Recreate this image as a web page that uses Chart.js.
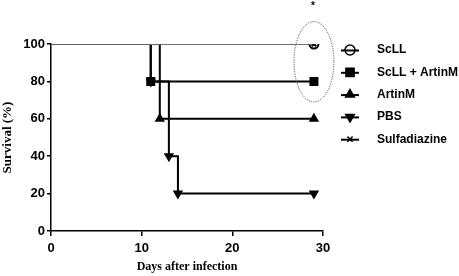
<!DOCTYPE html>
<html>
<head>
<meta charset="utf-8">
<script src="https://cdn.jsdelivr.net/npm/chart.js@4/dist/chart.umd.min.js"></script>
<style>
  html, body { margin: 0; padding: 0; background: #fff; }
  #wrap { width: 459px; height: 276px; position: relative; }
</style>
</head>
<body>
<div id="wrap"><canvas id="surv"></canvas></div>
<script>
// Data (days, % survival)
const groups = ["ScLL", "ScLL + ArtinM", "ArtinM", "PBS", "Sulfadiazine"];
const scllDays = [0, 29];
const scllSurv = [100, 100];
const scllArtDays = [0, 11, 29];
const scllArtSurv = [100, 80, 80];
const artinDays = [0, 12, 29];
const artinSurv = [100, 60, 60];
const pbsDays = [0, 11, 13, 14, 29];
const pbsSurv = [100, 80, 40, 20, 20];
const sulfaDays = [0, 29];
const sulfaSurv = [100, 100];
const xTicks = [0, 10, 20, 30];
const yTicks = [0, 20, 40, 60, 80, 100];

function pts(xs, ys) { return xs.map((x, i) => ({ x: x, y: ys[i] })); }
// hide the marker at day 0 (start of curve)
function radii(xs, r) { return xs.map(x => x === 0 ? 0 : r); }

const styles = [
  { style: "circle", r: 4.5, fill: "#fff", color: "#6a6a6a", w: 1.5, rot: 0, bw: 2 },
  { style: "rect", r: 5.3, fill: "#000", color: "#000", w: 2, rot: 0, bw: 1.5 },
  { style: "triangle", r: 4.5, fill: "#000", color: "#000", w: 2, rot: 0, bw: 1.5 },
  { style: "triangle", r: 4.5, fill: "#000", color: "#000", w: 2, rot: 180, bw: 1.5 },
  { style: "crossRot", r: 3.2, fill: "#000", color: "#6a6a6a", w: 1.5, rot: 0, bw: 2 }
];
const series = [
  [scllDays, scllSurv], [scllArtDays, scllArtSurv], [artinDays, artinSurv],
  [pbsDays, pbsSurv], [sulfaDays, sulfaSurv]
];

const datasets = series.map((s, i) => {
  const st = styles[i];
  return {
    label: groups[i],
    data: pts(s[0], s[1]),
    stepped: "before",
    borderColor: st.color,
    borderWidth: st.w,
    pointStyle: st.style,
    pointRadius: radii(s[0], st.r),
    pointRotation: st.rot,
    pointBackgroundColor: st.fill,
    pointBorderColor: "#000",
    pointBorderWidth: st.bw,
    fill: false
  };
});
// grey 100% lines on top of the black ones, the x inside the open circle
datasets[0].order = -1;
datasets[4].order = -2;

// dotted ellipse + asterisk, and the side legend
const extras = {
  id: "extras",
  afterDatasetsDraw(chart) {
    const { ctx, scales: { x, y } } = chart;
    ctx.save();
    const cx = x.getPixelForValue(29.0);
    const cy = y.getPixelForValue(90.5);
    const rx = x.getPixelForValue(31.2) - cx;
    const ry = cy - y.getPixelForValue(112);
    ctx.setLineDash([1.2, 1.2]);
    ctx.strokeStyle = "#555";
    ctx.lineWidth = 1;
    ctx.beginPath();
    ctx.ellipse(cx, cy, rx, ry, 0, 0, Math.PI * 2);
    ctx.stroke();
    ctx.setLineDash([]);
    ctx.fillStyle = "#000";
    ctx.font = "bold 10px 'Liberation Sans', Arial, sans-serif";
    ctx.textAlign = "center";
    ctx.textBaseline = "middle";
    ctx.fillText("*", cx - 1, y.getPixelForValue(120));

    // legend
    const lx = 350, ly0 = 50, dy = 22.3;
    ctx.textAlign = "left";
    ctx.font = "bold 12px 'Liberation Sans', Arial, sans-serif";
    const seg = (ly) => {
      ctx.strokeStyle = "#000";
      ctx.lineWidth = 2;
      ctx.beginPath();
      ctx.moveTo(lx - 9, ly + 0.5);
      ctx.lineTo(lx + 9, ly + 0.5);
      ctx.stroke();
    };
    chart.data.datasets.forEach((ds, i) => {
      const ly = ly0 + i * dy;
      const st = styles[i];
      if (st.style !== "circle") seg(ly);
      ctx.fillStyle = st.fill;
      ctx.strokeStyle = "#000";
      ctx.lineWidth = 1.5;
      Chart.helpers.drawPoint(ctx, {
        pointStyle: st.style,
        radius: st.r + 0.5,
        rotation: st.rot,
        borderWidth: 1.5
      }, lx, ly);
      if (st.style === "circle") seg(ly);
      ctx.fillStyle = "#000";
      ctx.fillText(ds.label, 377, ly);
    });
    ctx.restore();
  }
};

new Chart(document.getElementById("surv"), {
  type: "line",
  data: { datasets: datasets },
  plugins: [extras],
  options: {
    responsive: true,
    maintainAspectRatio: false,
    animation: false,
    layout: { padding: { left: 0, top: 44, right: 136, bottom: 0 } },
    plugins: { legend: { display: false }, tooltip: { enabled: false } },
    scales: {
      x: {
        type: "linear",
        min: 0, max: 30,
        afterBuildTicks: (s) => { s.ticks = xTicks.map(v => ({ value: v })); },
        afterFit: (s) => { s.height = 45; },
        grid: { drawOnChartArea: false, drawTicks: true, tickLength: 5, color: "#000", lineWidth: 1.5 },
        border: { color: "#000", width: 1.5 },
        ticks: { color: "#000", padding: 5, font: { family: "'Liberation Sans', Arial", size: 13, weight: "bold" } },
        title: {
          display: true, text: "Days after infection", color: "#000",
          font: { family: "'Liberation Serif', 'Times New Roman', serif", size: 12, weight: "bold" },
          padding: { top: 0, bottom: 2 }
        }
      },
      y: {
        min: 0, max: 100,
        afterBuildTicks: (s) => { s.ticks = yTicks.map(v => ({ value: v })); },
        afterFit: (s) => { s.width = 51; },
        grid: { drawOnChartArea: false, drawTicks: true, tickLength: 4, color: "#000", lineWidth: 1.5 },
        border: { color: "#000", width: 1.5 },
        ticks: { color: "#000", padding: 2, font: { family: "'Liberation Sans', Arial", size: 13, weight: "bold" } },
        title: {
          display: true, text: "Survival (%)", color: "#000",
          font: { family: "'Liberation Serif', 'Times New Roman', serif", size: 13, weight: "bold" },
          padding: { top: 0, bottom: 0 }
        }
      }
    }
  }
});
</script>
</body>
</html>
